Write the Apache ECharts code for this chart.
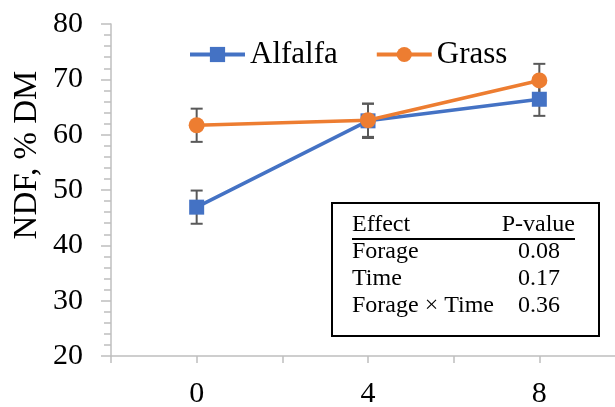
<!DOCTYPE html>
<html>
<head>
<meta charset="utf-8">
<script src="https://cdn.jsdelivr.net/npm/echarts@6/dist/echarts.min.js"></script>
<style>
  html, body { margin: 0; padding: 0; background: #fff; }
  #chart { width: 615px; height: 407px; }
</style>
</head>
<body>
<div id="chart"></div>
<script>
// Sampling times (h) and NDF values (% DM) with their standard errors
const times = [0, 4, 8];
const alfalfa = [46.9, 62.5, 66.4];
const alfalfaErr = [3.0, 3.1, 3.0];
const grass = [61.7, 62.6, 69.8];
const grassErr = [3.0, 3.0, 3.0];
const xTickLabels = ['0', '4', '8'];

// Statistics table
const tableHeader = ['Effect', 'P-value'];
const effects = ['Forage', 'Time', 'Forage × Time'];
const pValues = ['0.08', '0.17', '0.36'];

const FONT = '"Liberation Serif", "Times New Roman", serif';
const BLUE = '#4472C4';
const ORANGE = '#ED7D31';
const AXIS_GRAY = '#BFBFBF';
const BAR_GRAY = '#595959';

function pairs(xs, ys) {
  return xs.map((x, i) => [x, ys[i]]);
}
function errData(xs, ys, es) {
  return xs.map((x, i) => [x, ys[i] - es[i], ys[i] + es[i]]);
}

function errorBarSeries(data) {
  return {
    type: 'custom',
    z: 1,
    silent: true,
    data: data,
    encode: { x: 0, y: [1, 2] },
    renderItem: function (params, api) {
      const x = api.value(0);
      const lo = api.coord([x, api.value(1)]);
      const hi = api.coord([x, api.value(2)]);
      const half = 6;
      const style = { stroke: BAR_GRAY, lineWidth: 2, fill: null };
      return {
        type: 'group',
        children: [
          { type: 'line', shape: { x1: lo[0], y1: lo[1], x2: hi[0], y2: hi[1] }, style: style },
          { type: 'line', shape: { x1: lo[0] - half, y1: lo[1], x2: lo[0] + half, y2: lo[1] }, style: style },
          { type: 'line', shape: { x1: hi[0] - half, y1: hi[1], x2: hi[0] + half, y2: hi[1] }, style: style }
        ]
      };
    }
  };
}

const chart = echarts.init(document.getElementById('chart'));

// Table geometry
const tbl = { left: 332, top: 203, width: 267, height: 133 };
const colL = tbl.left + 20;
const colR = tbl.left + 243;
const valR = tbl.left + 228;
const rowY0 = tbl.top + 34;
const rowStep = 27;
const TFONT = '24px ' + FONT;

const graphics = [
  {
    type: 'rect',
    z: 100,
    shape: { x: tbl.left, y: tbl.top, width: tbl.width, height: tbl.height },
    style: { fill: '#fff', stroke: '#000', lineWidth: 2 }
  },
  {
    type: 'text', z: 101, x: colL, y: rowY0,
    style: { text: tableHeader[0], font: TFONT, fill: '#000', textVerticalAlign: 'bottom', textAlign: 'left' }
  },
  {
    type: 'text', z: 101, x: colR, y: rowY0,
    style: { text: tableHeader[1], font: TFONT, fill: '#000', textVerticalAlign: 'bottom', textAlign: 'right' }
  },
  {
    type: 'line', z: 101,
    shape: { x1: colL, y1: rowY0 + 2, x2: colR, y2: rowY0 + 2 },
    style: { stroke: '#000', lineWidth: 2 }
  }
];
effects.forEach((name, i) => {
  const y = rowY0 + rowStep * (i + 1);
  graphics.push({
    type: 'text', z: 101, x: colL, y: y,
    style: { text: name, font: TFONT, fill: '#000', textVerticalAlign: 'bottom', textAlign: 'left' }
  });
  graphics.push({
    type: 'text', z: 101, x: valR, y: y,
    style: { text: pValues[i], font: TFONT, fill: '#000', textVerticalAlign: 'bottom', textAlign: 'right' }
  });
});

// Rotated y-axis title
graphics.push({
  type: 'text',
  z: 50,
  x: 27,
  y: 155,
  rotation: Math.PI / 2,
  style: {
    text: 'NDF, % DM',
    font: '33px ' + FONT,
    fill: '#000',
    textAlign: 'center',
    textVerticalAlign: 'middle'
  }
});

const option = {
  animation: false,
  backgroundColor: '#fff',
  textStyle: { fontFamily: FONT },
  grid: { left: 111, top: 24, width: 514, bottom: 51, containLabel: false, outerBoundsMode: 'none' },
  legend: {
    left: 188,
    top: 39,
    padding: 0,
    itemWidth: 55,
    itemHeight: 19,
    itemGap: 37,
    lineStyle: { width: 4 },
    textStyle: { fontFamily: FONT, fontSize: 31, color: '#000' },
    data: ['Alfalfa', 'Grass']
  },
  xAxis: {
    type: 'value',
    min: -2,
    max: 10,
    interval: 2,
    axisLine: { show: true, onZero: false, lineStyle: { color: AXIS_GRAY, width: 1.5 } },
    axisTick: { show: true, length: 7, lineStyle: { color: AXIS_GRAY, width: 1.5 } },
    splitLine: { show: false },
    axisLabel: {
      margin: 23,
      fontFamily: FONT,
      fontSize: 30,
      color: '#000',
      formatter: function (v) {
        const idx = times.indexOf(v);
        return idx >= 0 ? xTickLabels[idx] : '';
      }
    }
  },
  yAxis: {
    type: 'value',
    min: 20,
    max: 80,
    interval: 10,
    axisLine: { show: true, onZero: false, lineStyle: { color: AXIS_GRAY, width: 1.5 } },
    axisTick: { show: true, inside: false, length: 10, lineStyle: { color: AXIS_GRAY, width: 1.5 } },
    minorTick: { show: true, splitNumber: 5, length: 7, lineStyle: { color: AXIS_GRAY, width: 1.5 } },
    splitLine: { show: false },
    axisLabel: { margin: 28, fontFamily: FONT, fontSize: 30, color: '#000' }
  },
  series: [
    errorBarSeries(errData(times, alfalfa, alfalfaErr)),
    errorBarSeries(errData(times, grass, grassErr)),
    {
      name: 'Alfalfa',
      type: 'line',
      z: 3,
      data: pairs(times, alfalfa),
      symbol: 'rect',
      symbolSize: 15,
      lineStyle: { color: BLUE, width: 3.5 },
      itemStyle: { color: BLUE },
      label: { show: false }
    },
    {
      name: 'Grass',
      type: 'line',
      z: 4,
      data: pairs(times, grass),
      symbol: 'circle',
      symbolSize: 16,
      lineStyle: { color: ORANGE, width: 3.5 },
      itemStyle: { color: ORANGE },
      label: { show: false }
    }
  ],
  graphic: graphics
};

chart.setOption(option);
</script>
</body>
</html>
